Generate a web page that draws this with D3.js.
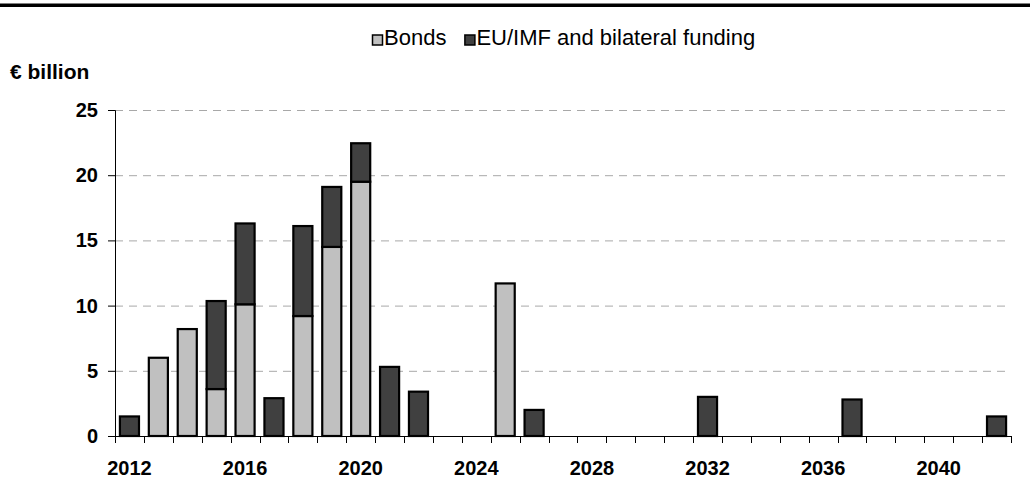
<!DOCTYPE html>
<html>
<head>
<meta charset="utf-8">
<script src="https://cdn.jsdelivr.net/npm/d3@7/dist/d3.min.js"></script>
<style>
  html, body { margin: 0; padding: 0; background: #fff; }
  svg { display: block; }
  text { font-family: "Liberation Sans", Arial, Helvetica, sans-serif; fill: #000; }
</style>
</head>
<body>
<svg id="chart" width="1030" height="478"></svg>
<script>
// Repayment profile, € billion per year
const years = d3.range(2012, 2043);
const bonds = [0, 6.0, 8.2, 3.6, 10.1, 0, 9.2, 14.5, 19.5, 0, 0, 0, 0, 11.7, 0,
               0, 0, 0, 0, 0, 0, 0, 0, 0, 0, 0, 0, 0, 0, 0, 0];
const euImf = [1.5, 0, 0, 6.75, 6.2, 2.9, 6.9, 4.6, 2.95, 5.3, 3.4, 0, 0, 0, 2.0,
               0, 0, 0, 0, 0, 3.0, 0, 0, 0, 0, 2.8, 0, 0, 0, 0, 1.5];
const seriesNames = ["Bonds", "EU/IMF and bilateral funding"];
const seriesColors = ["#c0c0c0", "#404040"];
const yTicks = [0, 5, 10, 15, 20, 25];
const xLabelYears = [2012, 2016, 2020, 2024, 2028, 2032, 2036, 2040];
const unitLabel = "€ billion";

const svg = d3.select("#chart");
const margin = { left: 115, right: 1011, top: 110, bottom: 436 };
const labelSize = 20;

const x = d3.scaleBand()
  .domain(years)
  .range([margin.left, margin.right])
  .paddingInner(0.34)
  .paddingOuter(0.17);
const step = x.step();

const y = d3.scaleLinear().domain([0, 25]).range([margin.bottom, margin.top]);

// heavy rule across the top
svg.append("rect").attr("x", 0).attr("y", 3.5).attr("width", 1030).attr("height", 3.5).attr("fill", "#000");

// dashed gridlines
svg.append("g").selectAll("line")
  .data(yTicks.filter(d => d > 0))
  .join("line")
  .attr("x1", margin.left).attr("x2", margin.right)
  .attr("y1", d => y(d) + 0.5).attr("y2", d => y(d) + 0.5)
  .attr("stroke", "#a8a8a8").attr("stroke-width", 1)
  .attr("stroke-dasharray", "8,6");

// stacked bars
const table = years.map((yr, i) => ({ year: yr, Bonds: bonds[i], EU: euImf[i] }));
const stack = d3.stack().keys(["Bonds", "EU"])(table);
svg.append("g").selectAll("g")
  .data(stack)
  .join("g")
  .attr("fill", (d, i) => seriesColors[i])
  .selectAll("rect")
  .data(d => d.filter(s => s[1] - s[0] > 0))
  .join("rect")
  .attr("x", d => x(d.data.year))
  .attr("width", x.bandwidth())
  .attr("y", d => y(d[1]))
  .attr("height", d => y(d[0]) - y(d[1]))
  .attr("stroke", "#000")
  .attr("stroke-width", 2.2);

// y axis
const yAxis = d3.axisLeft(y).tickValues(yTicks).tickSize(7).tickPadding(10).tickFormat(d3.format("d"));
const gy = svg.append("g").attr("transform", `translate(${margin.left},0)`).call(yAxis);
gy.select(".domain").attr("stroke", "#000");
gy.selectAll(".tick line").attr("stroke", "#000");
gy.selectAll(".tick text")
  .attr("font-size", labelSize).attr("font-weight", "bold")
  .attr("font-family", "Liberation Sans, Arial, sans-serif");

// x axis: ticks on band edges, labels every fourth year
const gx = svg.append("g").attr("transform", `translate(0,${margin.bottom})`);
gx.append("line").attr("x1", margin.left).attr("x2", margin.right + 1)
  .attr("y1", 0.5).attr("y2", 0.5).attr("stroke", "#000");
const edges = years.map(yr => x(yr) - step * x.paddingInner() / 2).concat([margin.right]);
gx.selectAll("line.tk").data(edges).join("line").attr("class", "tk")
  .attr("x1", d => Math.round(d) + 0.5).attr("x2", d => Math.round(d) + 0.5)
  .attr("y1", 0).attr("y2", 7).attr("stroke", "#000");
gx.selectAll("text").data(xLabelYears).join("text")
  .attr("x", d => x(d) + x.bandwidth() / 2)
  .attr("y", 39)
  .attr("text-anchor", "middle")
  .attr("font-size", labelSize).attr("font-weight", "bold")
  .text(d => d);

// unit label
svg.append("text").attr("x", 10).attr("y", 79)
  .attr("font-size", 21).attr("font-weight", "bold").text(unitLabel);

// legend
const lg = svg.append("g").attr("transform", "translate(372,34)");
let lx = 0;
seriesNames.forEach((name, i) => {
  lg.append("rect").attr("x", lx + 0.5).attr("y", 1).attr("width", 10).attr("height", 10)
    .attr("fill", seriesColors[i]).attr("stroke", "#000").attr("stroke-width", 1.5);
  const t = lg.append("text").attr("x", lx + 12).attr("y", 11)
    .attr("font-size", 22).text(name);
  lx += 12 + t.node().getComputedTextLength() + 18;
});
</script>
</body>
</html>
